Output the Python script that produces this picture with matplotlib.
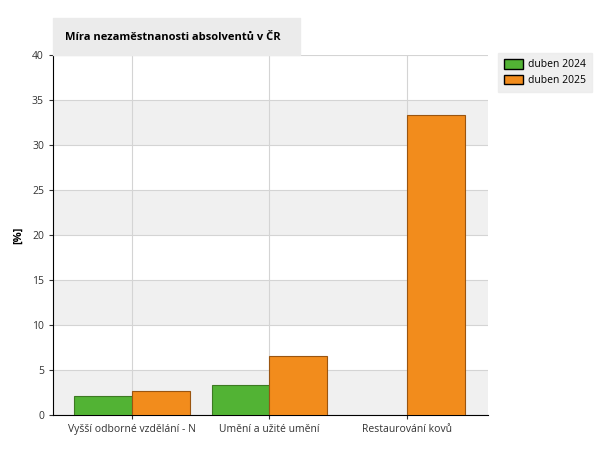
import matplotlib.pyplot as plt
import numpy as np
from matplotlib.patches import Rectangle, Patch

categories = ["Vyšší odborné vzdělání - N", "Umění a užité umění", "Restaurování kovů"]
values_2024 = [2.1, 3.33, np.nan]
values_2025 = [2.67, 6.56, 33.33]
series_labels = ["duben 2024", "duben 2025"]
GREEN = "#52b334"
ORANGE = "#f28c1c"

plt.rcParams["font.family"] = ["Open Sans", "DejaVu Sans"]

fig = plt.figure(figsize=(6, 4.5), dpi=100)
ax = fig.add_axes([53 / 600, 35 / 450, 435 / 600, 360 / 450])

x = np.arange(len(categories))
w = 0.42
ax.bar(x - w / 2, values_2024, width=w, color=GREEN, edgecolor="#3d7a22", linewidth=0.8, zorder=3)
ax.bar(x + w / 2, values_2025, width=w, color=ORANGE, edgecolor="#9a5510", linewidth=0.8, zorder=3)

ax.set_ylim(0, 40)
ax.set_xlim(-0.575, 2.59)
ax.set_yticks(range(0, 41, 5))
ax.set_xticks(x)
ax.set_xticklabels(categories, fontsize=7.5)
ax.tick_params(axis="y", labelsize=7.5, length=3, colors="#333333")
ax.tick_params(axis="x", length=3, colors="#333333")

# alternating bands
for lo in range(0, 40, 10):
    ax.axhspan(lo, lo + 5, color="#f0f0f0", zorder=0, linewidth=0)
ax.grid(True, color="#d4d4d4", linewidth=0.8, zorder=1)
ax.set_axisbelow(True)
for s in ["top", "right"]:
    ax.spines[s].set_visible(False)
ax.spines["left"].set_color("black")
ax.spines["bottom"].set_color("black")

ax.set_ylabel("[%]", fontsize=8, fontweight="bold", labelpad=6)

# title box
fig.patches.append(Rectangle((53 / 600, (450 - 55) / 450), 247 / 600, 37 / 450,
                             transform=fig.transFigure, color="#ebebeb", zorder=0))
fig.text(65 / 600, (450 - 37) / 450, "Míra nezaměstnanosti absolventů v ČR",
         fontsize=8, fontweight="bold", va="center", ha="left")

handles = [Patch(facecolor=GREEN, edgecolor="black", label=series_labels[0]),
           Patch(facecolor=ORANGE, edgecolor="black", label=series_labels[1])]
leg = fig.legend(handles=handles, loc="upper left", bbox_to_anchor=(498 / 600, (450 - 53) / 450),
                 fontsize=7.5, frameon=True, fancybox=False, borderpad=0.6, borderaxespad=0,
                 handlelength=1.8, handleheight=1.0, handletextpad=0.5, labelspacing=0.4)
leg.get_frame().set_facecolor("#ebebeb")
leg.get_frame().set_edgecolor("#ebebeb")

fig.savefig("out.png", dpi=100)
